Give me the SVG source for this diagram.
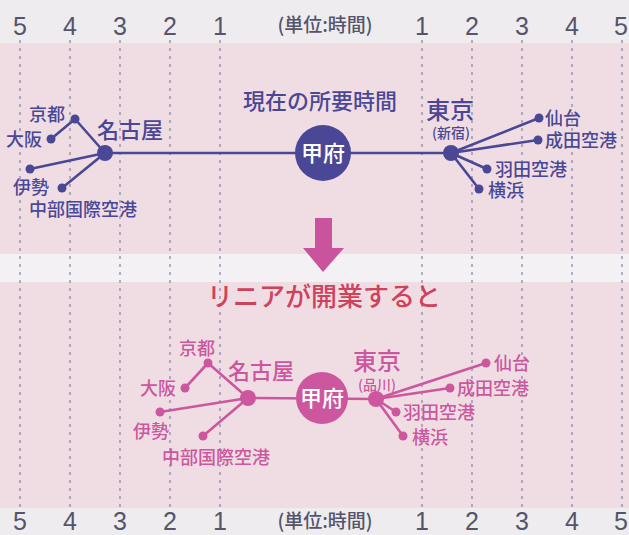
<svg xmlns="http://www.w3.org/2000/svg" width="629" height="535" viewBox="0 0 629 535">
<style>
.jp{font-family:"Noto Sans CJK JP","Noto Sans",sans-serif;}
.num{font-family:"Liberation Sans",Arial,sans-serif;font-size:25px;fill:#54546a;text-anchor:middle;}
.unit{font-family:"Noto Sans CJK JP",sans-serif;font-size:19px;fill:#54546a;text-anchor:middle;font-weight:500;}
.grid{stroke:#8c8aa6;stroke-width:1.3;stroke-dasharray:3 5;fill:none;}
.n1{fill:#4a4896;}
.l1{stroke:#4a4896;stroke-width:2.6;fill:none;stroke-linecap:round;}
.t1{fill:#4a4896;font-weight:500;}
.n2{fill:#cc579e;}
.l2{stroke:#cc579e;stroke-width:2.6;fill:none;stroke-linecap:round;}
.t2{fill:#cc579e;font-weight:500;}
.s{font-size:18px;}
.m{font-size:22px;}
.b{font-size:24px;}
.p{font-size:14px;}
.c{text-anchor:middle;}
.w{fill:#ffffff;font-weight:500;}
</style>
<rect x="0" y="0" width="629" height="535" fill="#eeecee"/>
<rect x="0" y="43" width="629" height="211" fill="#f0dde4"/>
<rect x="0" y="254" width="629" height="28" fill="#f3f1f3"/>
<rect x="0" y="282" width="629" height="226" fill="#f0dde4"/>

<g id="grid">
<line class="grid" x1="20" y1="40" x2="20" y2="510"/>
<line class="grid" x1="70" y1="40" x2="70" y2="510"/>
<line class="grid" x1="120" y1="40" x2="120" y2="510"/>
<line class="grid" x1="170" y1="40" x2="170" y2="510"/>
<line class="grid" x1="220" y1="40" x2="220" y2="510"/>
<line class="grid" x1="422" y1="40" x2="422" y2="510"/>
<line class="grid" x1="472" y1="40" x2="472" y2="510"/>
<line class="grid" x1="522" y1="40" x2="522" y2="510"/>
<line class="grid" x1="572" y1="40" x2="572" y2="510"/>
<line class="grid" x1="622" y1="40" x2="622" y2="510"/>
</g>

<g id="scale-top">
<text class="num" x="20" y="35">5</text>
<text class="num" x="70" y="35">4</text>
<text class="num" x="120" y="35">3</text>
<text class="num" x="170" y="35">2</text>
<text class="num" x="220" y="35">1</text>
<text class="unit" x="325" y="32">(単位:時間)</text>
<text class="num" x="422" y="35">1</text>
<text class="num" x="472" y="35">2</text>
<text class="num" x="522" y="35">3</text>
<text class="num" x="572" y="35">4</text>
<text class="num" x="621" y="35">5</text>
</g>
<g id="scale-bottom">
<text class="num" x="20" y="530">5</text>
<text class="num" x="70" y="530">4</text>
<text class="num" x="120" y="530">3</text>
<text class="num" x="170" y="530">2</text>
<text class="num" x="220" y="530">1</text>
<text class="unit" x="325" y="528">(単位:時間)</text>
<text class="num" x="422" y="530">1</text>
<text class="num" x="472" y="530">2</text>
<text class="num" x="522" y="530">3</text>
<text class="num" x="572" y="530">4</text>
<text class="num" x="621" y="530">5</text>
</g>

<g id="connectors">
<line class="l1" x1="105" y1="153" x2="451" y2="153"/>
<line class="l1" x1="105" y1="153" x2="75" y2="119"/>
<line class="l1" x1="75" y1="119" x2="51" y2="139"/>
<line class="l1" x1="105" y1="153" x2="30" y2="169"/>
<line class="l1" x1="105" y1="153" x2="62" y2="188"/>
<line class="l1" x1="451" y1="153" x2="539" y2="118"/>
<line class="l1" x1="451" y1="153" x2="538" y2="140"/>
<line class="l1" x1="451" y1="153" x2="487" y2="169"/>
<line class="l1" x1="451" y1="153" x2="479" y2="189"/>

<line class="l2" x1="248" y1="398" x2="376" y2="399"/>
<line class="l2" x1="248" y1="398" x2="208" y2="363"/>
<line class="l2" x1="208" y1="363" x2="185" y2="388"/>
<line class="l2" x1="248" y1="398" x2="160" y2="412"/>
<line class="l2" x1="248" y1="398" x2="203" y2="436"/>
<line class="l2" x1="376" y1="399" x2="486" y2="363"/>
<line class="l2" x1="376" y1="399" x2="450" y2="388"/>
<line class="l2" x1="376" y1="399" x2="396" y2="412"/>
<line class="l2" x1="376" y1="399" x2="403" y2="436"/>
</g>

<text class="jp t1 m c" x="320" y="109">現在の所要時間</text>

<g id="kofu-now">
<circle class="n1" cx="323" cy="153" r="28"/>
<text class="jp w m c" x="323" y="161">甲府</text>
</g>
<g id="nagoya-now">
<circle class="n1" cx="105" cy="153" r="8"/>
<text class="jp t1 m" x="97" y="138">名古屋</text>
</g>
<g id="kyoto-now"><circle class="n1" cx="75" cy="119" r="4.5"/><text class="jp t1 s" x="29" y="121">京都</text></g>
<g id="osaka-now"><circle class="n1" cx="51" cy="139" r="4.5"/><text class="jp t1 s" x="6" y="146">大阪</text></g>
<g id="ise-now"><circle class="n1" cx="30" cy="169" r="4.5"/><text class="jp t1 s" x="13" y="194">伊勢</text></g>
<g id="chubu-now"><circle class="n1" cx="62" cy="188" r="4.5"/><text class="jp t1 s" x="29" y="216">中部国際空港</text></g>
<g id="tokyo-now">
<circle class="n1" cx="451" cy="153" r="8"/>
<text class="jp t1 b c" x="450" y="119">東京</text>
<text class="jp t1 p c" x="451" y="138">(新宿)</text>
</g>
<g id="sendai-now"><circle class="n1" cx="539" cy="118" r="4.5"/><text class="jp t1 s" x="545" y="125">仙台</text></g>
<g id="narita-now"><circle class="n1" cx="538" cy="140" r="4.5"/><text class="jp t1 s" x="545" y="147">成田空港</text></g>
<g id="haneda-now"><circle class="n1" cx="487" cy="169" r="4.5"/><text class="jp t1 s" x="495" y="176">羽田空港</text></g>
<g id="yokohama-now"><circle class="n1" cx="479" cy="189" r="4.5"/><text class="jp t1 s" x="488" y="197">横浜</text></g>

<polygon id="arrow" points="315,218 332,218 332,248 344,248 323,272 303,248 315,248" fill="#c9539c"/>
<text class="jp c" x="324" y="306" font-size="26" fill="#cf425c" font-weight="500">リニアが開業すると</text>

<g id="kofu-linear">
<circle class="n2" cx="322" cy="398" r="26"/>
<text class="jp w m c" x="322" y="406">甲府</text>
</g>
<g id="nagoya-linear">
<circle class="n2" cx="248" cy="398" r="8"/>
<text class="jp t2 m" x="228" y="379">名古屋</text>
</g>
<g id="kyoto-linear"><circle class="n2" cx="208" cy="363" r="4.5"/><text class="jp t2 s" x="179" y="355">京都</text></g>
<g id="osaka-linear"><circle class="n2" cx="185" cy="388" r="4.5"/><text class="jp t2 s" x="140" y="395">大阪</text></g>
<g id="ise-linear"><circle class="n2" cx="160" cy="412" r="4.5"/><text class="jp t2 s" x="133" y="438">伊勢</text></g>
<g id="chubu-linear"><circle class="n2" cx="203" cy="436" r="4.5"/><text class="jp t2 s" x="162" y="464">中部国際空港</text></g>
<g id="tokyo-linear">
<circle class="n2" cx="376" cy="399" r="8"/>
<text class="jp t2 b c" x="377" y="370">東京</text>
<text class="jp t2 p c" x="377" y="390">(品川)</text>
</g>
<g id="sendai-linear"><circle class="n2" cx="486" cy="363" r="4.5"/><text class="jp t2 s" x="494" y="370">仙台</text></g>
<g id="narita-linear"><circle class="n2" cx="450" cy="388" r="4.5"/><text class="jp t2 s" x="457" y="395">成田空港</text></g>
<g id="haneda-linear"><circle class="n2" cx="396" cy="412" r="4.5"/><text class="jp t2 s" x="403" y="419">羽田空港</text></g>
<g id="yokohama-linear"><circle class="n2" cx="403" cy="436" r="4.5"/><text class="jp t2 s" x="412" y="444">横浜</text></g>
</svg>
